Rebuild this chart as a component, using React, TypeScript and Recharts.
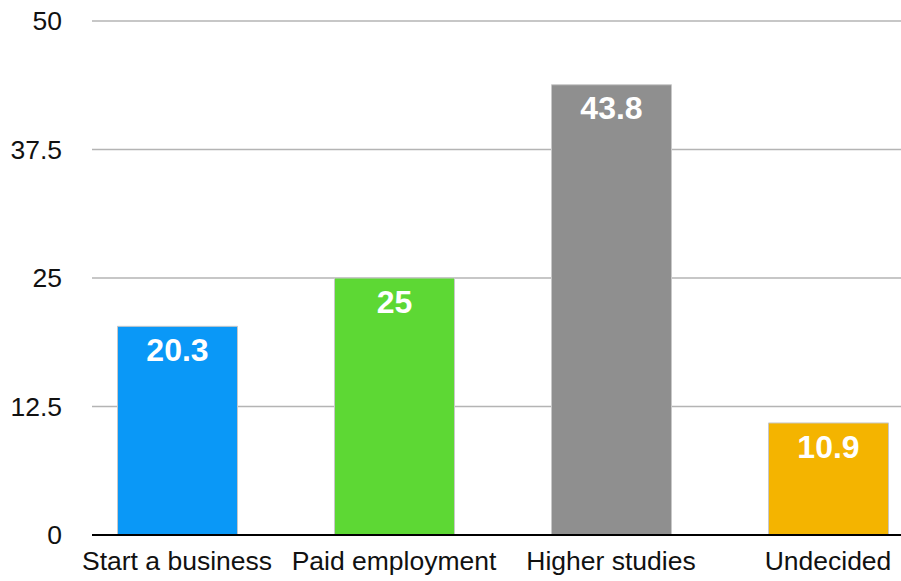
import { BarChart, Bar, XAxis, YAxis, CartesianGrid, Cell, LabelList } from "recharts";

const categories = ["Start a business", "Paid employment", "Higher studies", "Undecided"];
const values = [20.3, 25, 43.8, 10.9];
const barColors = ["#0A98F7", "#5DD834", "#8F8F8F", "#F4B400"];
const yTicks = [0, 12.5, 25, 37.5, 50];

const data = categories.map((name, i) => ({ name, value: values[i] }));

const font = "'Liberation Sans', Arial, Helvetica, sans-serif";

export default function App() {
  return (
    <div style={{ position: "absolute", left: 0, top: 0, width: 901, height: 581, background: "#fff", overflow: "hidden" }}>
      <BarChart
        width={901}
        height={581}
        data={data}
        margin={{ top: 21, right: 0, left: 0, bottom: 0 }}
      >
        <CartesianGrid vertical={false} stroke="#b4b4b4" strokeWidth={1.5} />
        <XAxis
          dataKey="name"
          height={46}
          padding={{ left: -23.5, right: -35.5 }}
          tickLine={false}
          tickSize={0}
          tickMargin={16}
          axisLine={{ stroke: "#000", strokeWidth: 2 }}
          tick={{ fill: "#111", fontSize: 26.5, fontFamily: font }}
          interval={0}
        />
        <YAxis
          width={92}
          domain={[0, 50]}
          ticks={yTicks}
          axisLine={false}
          tickLine={false}
          tickSize={0}
          tickMargin={30}
          tick={{ fill: "#111", fontSize: 26.5, fontFamily: font }}
        />
        <Bar dataKey="value" barSize={120} stroke="#c8c8c8" strokeWidth={1} isAnimationActive={false}>
          {data.map((d, i) => (
            <Cell key={d.name} fill={barColors[i]} />
          ))}
          <LabelList
            dataKey="value"
            position="insideTop"
            offset={12}
            fill="#fff"
            fontSize={32}
            fontWeight="bold"
            fontFamily={font}
            isAnimationActive={false}
          />
        </Bar>
      </BarChart>
    </div>
  );
}
